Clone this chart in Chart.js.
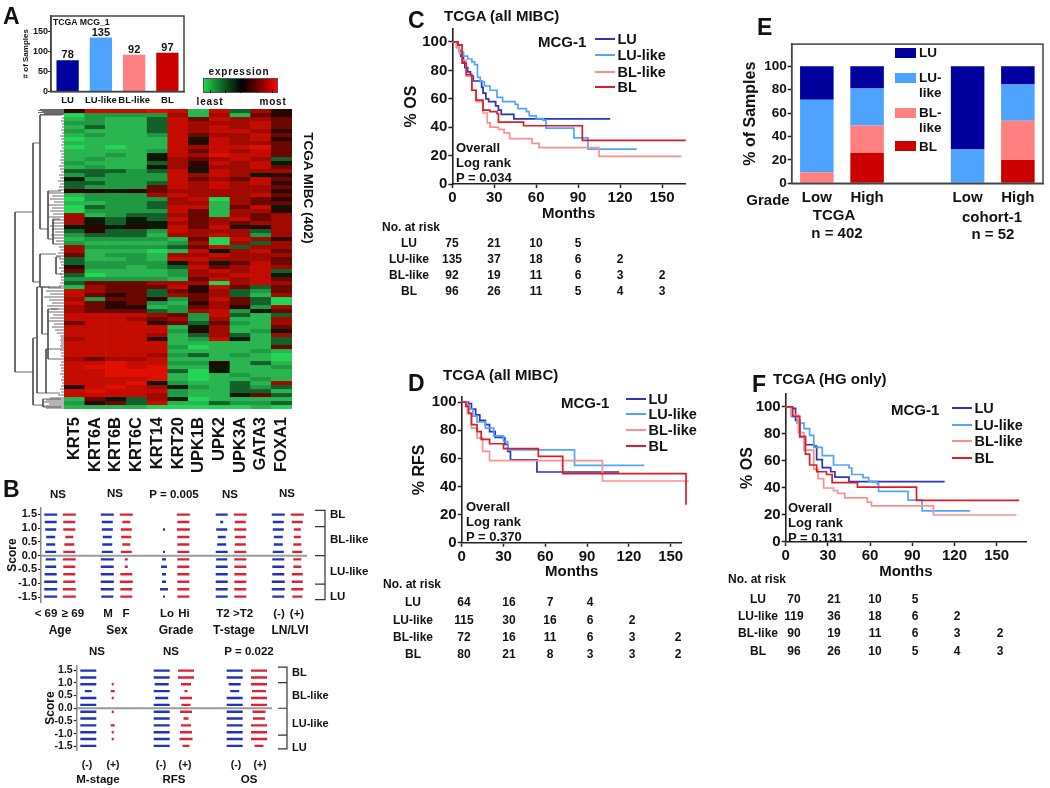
<!DOCTYPE html>
<html>
<head>
<meta charset="utf-8">
<title>MCG-1 subtypes</title>
<script src="https://cdn.jsdelivr.net/npm/chart.js@4"></script>
<style>
  html, body { margin: 0; padding: 0; background: #fff; }
  #page { position: relative; width: 1050px; height: 788px; overflow: hidden; font-family: "Liberation Sans", Arial, sans-serif; font-weight: bold; color: #111; filter: blur(0.4px); }
  #page canvas { position: absolute; }
  .lbl { position: absolute; white-space: nowrap; line-height: 1; }
  .mark { position: absolute; }
</style>
</head>
<body>
<div id="page"></div>
<script>
// colours of the four subtypes
const subtypes = ['LU', 'LU-like', 'BL-like', 'BL'];
const lineColors = ['#2b35b5', '#4da6ff', '#ff9090', '#d81f26'];
const barColors = ['#00009e', '#4da3ff', '#ff8080', '#cc0000'];

// A: sample counts
const sampleCounts = [78, 135, 92, 97];

// A: heatmap, one string per row, one digit per gene (0 = least, 9 = most)
const genes = ['KRT5', 'KRT6A', 'KRT6B', 'KRT6C', 'KRT14', 'KRT20', 'UPK1B', 'UPK2', 'UPK3A', 'GATA3', 'FOXA1'];
const heatColors = ['#24d656', '#2bb551', '#209a42', '#14602a', '#0a1808', '#2c0500', '#6a0800', '#a00a00', '#c40c00', '#e01000'];
const heatRows = [
  '58889818375', '02222717165', '12113868776', '22113877786', '13113878786', '21113878875',
  '12112867786', '01111848785', '11111858776', '01011878896', '11112868786', '11214879886',
  '12114767873', '21113758784', '12114757786', '33323848777', '23222878745', '42222867686',
  '33223878785', '32226878776', '55456777775', '12227877786', '02222780765', '11223771766',
  '03223881684', '02222861775', '71233761767', '74343867867', '74344767677', '45454868557',
  '35332877737', '23331778727', '12222160875', '21111270737', '72222368377', '71110184786',
  '61221778777', '31121887776', '32222474686', '52212386787', '61111278783', '30111277884',
  '22222168786', '36667770787', '17666858636', '87663657326', '86563767317', '72665268630',
  '86562157630', '76551267527', '76663278246', '88887628313', '88876727117', '68885636217',
  '88888147116', '88888257124', '88887137317', '78885128413', '88888111113', '88888201116',
  '88888111121', '88887231210', '76778111110', '88988225131', '89989114112', '88999304111',
  '88999101211', '88889101121', '88894211317', '58987421323', '89888211331', '88887211463',
  '16437401111', '25638113223', '11110000010'
];

// A: dendrogram, links are [height, y1, y2, child height 1, child height 2], leaves are [y, height]
const dendroLinks = [
  [49, 103, 263, 31, 31], [31, 34, 173, 24, 24], [31, 229, 296, 27, 21], [24, 6, 120, 2, 16],
  [16, 82, 130, 3, 11], [11, 110, 135, 4, 6], [24, 145, 178, 8, 14], [27, 178, 284, 22, 18],
  [22, 178, 225, 3, 16], [16, 200, 250, 6, 4], [18, 240, 284, 3, 4], [21, 290, 298, 3, 3], [8, 148, 165, 3, 2]
];
const dendroLeaves = [
  [0.5, 24], [1.5, 26], [2.5, 22], [3.5, 26], [4.5, 20], [5.5, 24], [9, 2], [12, 3], [15, 2], [18, 2], [21, 3], [24, 2],
  [27, 4], [30, 3], [33, 2], [36, 3], [39, 2], [42, 4], [45, 3], [48, 3], [51, 4], [54, 3], [57, 5], [60, 4], [63, 3],
  [66, 5], [69, 4], [72, 6], [75, 4], [78, 5], [81, 6], [84, 15], [87, 12], [90, 14], [93, 10], [96, 16], [99, 12],
  [102, 14], [105, 11], [108, 15], [111, 10], [114, 12], [117, 14], [120, 12], [123, 9], [126, 13], [129, 11],
  [132, 8], [135, 6], [138, 5], [141, 4], [144, 6], [147, 8], [150, 5], [153, 4], [156, 3], [159, 5], [162, 3],
  [165, 4], [168, 3], [171, 3], [174, 4], [177, 5], [179, 16], [182, 18], [185, 14], [188, 20], [191, 15], [194, 12],
  [197, 17], [200, 13], [203, 15], [206, 11], [209, 14], [212, 16], [215, 10], [218, 12], [221, 9], [224, 7],
  [227, 4], [229, 3], [231, 4], [233, 3], [235, 3], [237, 4], [239, 3], [241, 4], [244, 3], [247, 3], [250, 4],
  [253, 3], [256, 4], [259, 3], [262, 3], [265, 4], [268, 2], [271, 3], [274, 2], [277, 3], [280, 4], [283, 3],
  [286, 6], [289, 14], [291, 18], [293, 20], [295, 15], [297, 20], [299, 18]
];

// B: 12 score bins, dash width of each group per bin
const scoreBins = [1.485, 1.215, 0.945, 0.675, 0.405, 0.135, -0.135, -0.405, -0.675, -0.945, -1.215, -1.485];
const ageLow = [13, 12, 11, 9, 9, 11, 10, 11, 12, 13, 13, 13];
const ageHigh = [13, 12, 12, 8, 10, 12, 13, 12, 12, 12, 13, 13];
const sexM = [13, 11, 11, 9, 10, 11, 13, 13, 13, 13, 13, 12];
const sexF = [13, 8, 11, 10, 8, 11, 3, 3, 12, 13, 12, 12];
const gradeLo = [0, 0, 2, 0, 0, 2, 4, 6, 4, 4, 8, 2];
const gradeHi = [13, 12, 13, 12, 12, 12, 12, 12, 12, 12, 12, 12];
const stageT2 = [12, 3, 11, 8, 9, 12, 11, 12, 12, 12, 12, 12];
const stageOver = [13, 11, 12, 11, 11, 12, 12, 12, 12, 12, 12, 12];
const lnNeg = [13, 11, 11, 9, 9, 11, 12, 12, 12, 13, 13, 12];
const lnPos = [13, 11, 7, 7, 8, 10, 8, 8, 11, 11, 12, 10];
const mNeg = [16, 16, 16, 7, 16, 16, 16, 16, 16, 16, 16, 16];
const mPos = [0, 0, 2, 4, 2, 0, 2, 0, 4, 2, 2, 0];
const rfsNeg = [16, 16, 14, 16, 13, 16, 16, 16, 16, 16, 16, 16];
const rfsPos = [16, 16, 10, 3, 12, 9, 12, 5, 10, 12, 13, 7];
const osNeg = [16, 16, 12, 9, 16, 16, 16, 16, 16, 16, 16, 16];
const osPos = [16, 16, 16, 14, 16, 16, 13, 12, 16, 16, 16, 9];

// C: % OS, all MIBC
const cLuMonths = [0, 4, 5, 6, 8, 9, 11, 13, 15, 21, 22, 24, 26, 31, 33, 35, 44, 113];
const cLuOs = [100, 98, 94, 90, 86, 82, 79, 76, 72.5, 68, 64, 60, 58, 55, 52, 49, 45.8, 45.8];
const cLuLikeMonths = [0, 3, 5, 8, 11, 14, 16, 18, 20, 23, 27, 32, 36, 45, 47, 53, 55, 60, 65, 67, 87, 97, 132];
const cLuLikeOs = [100, 96, 93, 90, 88, 86, 84, 75, 72, 69, 66, 61, 58, 56, 53, 51, 48, 46, 45, 39.4, 32.5, 24.5, 24.5];
const cBlLikeMonths = [0, 3, 5, 7, 10, 14, 17, 22, 25, 27, 33, 37, 41, 57, 62, 105, 164];
const cBlLikeOs = [100, 96.5, 92, 87, 76, 66, 58, 50, 43, 40, 38.5, 36, 32, 28.6, 25.6, 19.4, 19.4];
const cBlMonths = [0, 4, 7, 10, 14, 17, 22, 27, 32, 33, 51, 93, 167];
const cBlOs = [100, 98, 85, 77, 66, 59, 52, 51, 49.6, 43.5, 41, 30.7, 30.7];

// D: % RFS, all MIBC
const dLuMonths = [0, 5, 7, 10, 13, 17, 20, 24, 30, 31, 33, 35, 54, 113];
const dLuRfs = [100, 99, 95, 91, 87, 84, 79, 75, 74.5, 70, 65, 59, 50.3, 50.3];
const dLuLikeMonths = [0, 3, 5, 8, 11, 17, 23, 30, 33, 81, 131];
const dLuLikeRfs = [100, 98, 95, 90, 86, 81.5, 76, 72, 66, 55, 55];
const dBlLikeMonths = [0, 4, 7, 11, 15, 20, 101, 163];
const dBlLikeRfs = [100, 92, 81.5, 74.6, 65, 58.4, 43.9, 43.9];
const dBlMonths = [0, 3, 5, 7, 11, 14, 20, 30, 55, 72.5, 161];
const dBlRfs = [100, 97, 92, 84, 79, 73.5, 70.4, 67, 61.4, 49.2, 27];

// F: % OS, HG only
const fLuMonths = [0, 4, 7, 10, 14, 20, 22, 26, 32, 35, 45, 113];
const fLuOs = [100, 99, 90, 78, 72, 71, 61, 55, 52, 48, 44.7, 44.7];
const fLuLikeMonths = [0, 4, 8, 13, 17, 20, 26, 34, 45, 47, 55, 59, 65, 66, 87, 97, 131];
const fLuLikeOs = [100, 93, 88, 84, 79, 70, 64, 57, 54.8, 50, 47.6, 45, 43, 37.5, 31, 23, 23];
const fBlLikeMonths = [0, 4, 9, 13, 20, 23, 27, 34, 37, 42, 58, 61, 105, 164];
const fBlLikeOs = [100, 94, 81, 68, 54, 47, 40, 38, 36, 32.7, 29.6, 26.7, 20, 20];
const fBlMonths = [0, 5, 10, 14, 17, 22, 29, 33, 51, 93, 166];
const fBlOs = [100, 93, 78, 65, 57, 52, 50, 44, 40.6, 30.8, 30.8];

// numbers at risk
const cRisk = [[75, 21, 10, 5], [135, 37, 18, 6, 2], [92, 19, 11, 6, 3, 2], [96, 26, 11, 5, 4, 3]];
const dRisk = [[64, 16, 7, 4], [115, 30, 16, 6, 2], [72, 16, 11, 6, 3, 2], [80, 21, 8, 3, 3, 2]];
const fRisk = [[70, 21, 10, 5], [119, 36, 18, 6, 2], [90, 19, 11, 6, 3, 2], [96, 26, 10, 5, 4, 3]];

// E: % of samples per grade
const gradeLabels = ['Low', 'High', '', 'Low', 'High'];
const gradeLu = [28.5, 19, null, 71, 15.5];
const gradeLuLike = [62, 31.5, null, 29, 31];
const gradeBlLike = [9.5, 23.5, null, 0, 33.5];
const gradeBl = [0, 26, null, 0, 20];

const page = document.getElementById('page');
const FONT = '"Liberation Sans", Arial, sans-serif';
const INK = '#111';
Chart.defaults.font.family = FONT;
Chart.defaults.font.weight = 'bold';
Chart.defaults.color = INK;
Chart.defaults.animation = false;
Chart.defaults.responsive = false;
Chart.defaults.plugins.legend.display = false;
Chart.defaults.plugins.tooltip.enabled = false;

function label(text, x, y, size, align = 'center', extra = {}) {
  const el = document.createElement('div');
  el.className = 'lbl';
  el.textContent = text;
  el.style.left = x + 'px';
  el.style.top = y + 'px';
  el.style.fontSize = size + 'px';
  const shift = align === 'center' ? '-50%' : align === 'right' ? '-100%' : '0';
  el.style.transform = `translate(${shift}, -50%)` + (extra.rotate ? ` rotate(${extra.rotate}deg)` : '');
  if (extra.spacing) el.style.letterSpacing = extra.spacing;
  page.appendChild(el);
  return el;
}

function box(x, y, w, h, css) {
  const el = document.createElement('div');
  el.className = 'mark';
  el.style.cssText = `left:${x}px;top:${y}px;width:${w}px;height:${h}px;${css}`;
  page.appendChild(el);
}

function makeCanvas(x, y, w, h) {
  const c = document.createElement('canvas');
  c.width = w;
  c.height = h;
  c.style.left = x + 'px';
  c.style.top = y + 'px';
  c.style.width = w + 'px';
  c.style.height = h + 'px';
  page.appendChild(c);
  return c.getContext('2d');
}

const framePlugin = {
  id: 'frame',
  afterDraw(chart) {
    const { ctx, chartArea: a } = chart;
    ctx.save();
    ctx.strokeStyle = '#444';
    ctx.lineWidth = 1.5;
    ctx.strokeRect(a.left, a.top, a.right - a.left, a.bottom - a.top);
    ctx.restore();
  }
};

function axisGrid(width = 1.5, length = 4) {
  return { drawOnChartArea: false, tickLength: length, tickWidth: width, tickColor: '#222' };
}

function xy(months, values) {
  return months.map((m, i) => ({ x: m, y: values[i] }));
}

// keep a category axis from shrinking the plot for its outer labels
function fitCategoryAxis(height) {
  return s => {
    s.height = height;
    s.paddingLeft = 0;
    s.paddingRight = 0;
  };
}

// ---------- A: bars
new Chart(makeCanvas(21, 10, 169, 96), {
  type: 'bar',
  data: {
    labels: subtypes,
    datasets: [{ data: sampleCounts, backgroundColor: barColors, barPercentage: 0.67, categoryPercentage: 1 }]
  },
  options: {
    layout: { padding: { top: 6, right: 6 } },
    scales: {
      x: {
        afterFit: fitCategoryAxis(14.5),
        grid: { display: false, drawTicks: false },
        border: { color: '#444', width: 1.5 },
        ticks: { font: { size: 9.5 }, padding: 3, maxRotation: 0, autoSkip: false }
      },
      y: {
        min: 0, max: 188.75,
        afterFit: s => { s.width = 30; },
        grid: axisGrid(1, 3),
        border: { color: '#444', width: 1.5 },
        ticks: { stepSize: 50, includeBounds: false, font: { size: 9 }, padding: 0 },
        title: { display: true, text: '# of Samples', font: { size: 8 }, padding: 0 }
      }
    }
  },
  plugins: [framePlugin, {
    id: 'barValues',
    afterDatasetsDraw(chart) {
      const { ctx } = chart;
      ctx.save();
      ctx.font = `bold 11px ${FONT}`;
      ctx.fillStyle = INK;
      ctx.textAlign = 'center';
      ctx.textBaseline = 'bottom';
      chart.getDatasetMeta(0).data.forEach((bar, i) => ctx.fillText(sampleCounts[i], bar.x, bar.y + 0.5));
      ctx.restore();
    }
  }]
});
label('TCGA MCG_1', 53, 21.5, 8.7);
page.lastChild.style.transform = 'translate(0, -50%)';
label('A', 3, 16, 23, 'left');

// colour key
label('expression', 239, 72, 10, 'center', { spacing: '0.8px' });
box(203, 78, 75, 15, 'background:linear-gradient(90deg,#1fd24c,#0c5a20 28%,#000 52%,#7a0000 76%,#ff0000);border:1px solid #555;box-sizing:border-box;');
[210, 225, 240, 257, 272].forEach(x => box(x, 90, 1, 3, 'background:#111;'));
label('least', 210, 102, 10, 'center', { spacing: '0.8px' });
label('most', 273, 102, 10, 'center', { spacing: '0.8px' });

// ---------- A: heatmap, every row is a stack segment
new Chart(makeCanvas(64, 109, 228, 372), {
  type: 'bar',
  data: {
    labels: genes,
    datasets: heatRows.map(row => ({
      data: genes.map(() => 1),
      backgroundColor: row.split('').map(d => heatColors[+d]),
      borderColor: row.split('').map(d => heatColors[+d]),
      borderWidth: 0.4,
      barPercentage: 1,
      categoryPercentage: 1,
      stack: 'rows'
    }))
  },
  options: {
    scales: {
      x: {
        stacked: true,
        afterFit: fitCategoryAxis(72),
        grid: { display: false, drawTicks: false },
        border: { display: false },
        ticks: { font: { size: 16.5 }, minRotation: 90, maxRotation: 90, autoSkip: false, padding: 8 }
      },
      y: {
        stacked: true, reverse: true, min: 0, max: heatRows.length,
        display: false
      }
    }
  }
});
label('TCGA MIBC (402)', 308, 188, 13.5, 'center', { rotate: 90 });

// ---------- A: dendrogram
const dendroPoints = [];
dendroLinks.forEach(([h, y1, y2, c1, c2]) => {
  dendroPoints.push({ x: c1, y: y1 }, { x: h, y: y1 }, { x: h, y: y2 }, { x: c2, y: y2 }, { x: null, y: null });
});
dendroLeaves.forEach(([y, h]) => {
  dendroPoints.push({ x: 0, y }, { x: h, y }, { x: null, y: null });
});
new Chart(makeCanvas(10, 109, 54, 300), {
  type: 'scatter',
  data: { datasets: [{ data: dendroPoints, showLine: true, borderColor: '#444', borderWidth: 0.8, pointRadius: 0 }] },
  options: {
    scales: {
      x: { display: false, reverse: true, min: 0, max: 54 },
      y: { display: false, reverse: true, min: 0, max: 300 }
    }
  }
});

// ---------- B: dash panels
function dashes(widths, center) {
  const pts = [];
  widths.forEach((w, i) => {
    if (w > 0) pts.push({ x: center - w / 2, y: scoreBins[i] }, { x: center + w / 2, y: scoreBins[i] }, { x: null, y: null });
  });
  return pts;
}

function scorePanel(cfg) {
  const line = (data, color, width) => ({ data, showLine: true, borderColor: color, borderWidth: width, pointRadius: 0 });
  const datasets = cfg.groups.map(([w, c, color]) => line(dashes(w, c), color, 2.4));
  datasets.push(line(cfg.zero, '#9a9a9a', 2));
  datasets.push(line(cfg.bracket, '#333', 1.2));
  new Chart(makeCanvas(cfg.left, cfg.top, cfg.width, cfg.height), {
    type: 'scatter',
    data: { datasets },
    options: {
      layout: { padding: { top: 3, bottom: 3 } },
      scales: {
        x: { display: false, min: cfg.xMin, max: cfg.left + cfg.width },
        y: {
          min: cfg.yMin, max: cfg.yMax,
          afterFit: s => { s.width = cfg.xMin - cfg.left; },
          grid: axisGrid(1.2, 3),
          border: { color: '#888', width: 1.5 },
          ticks: { stepSize: 0.5, includeBounds: false, autoSkip: false, font: { size: cfg.tickSize }, padding: 1, callback: v => v.toFixed(1) },
          title: { display: true, text: 'Score', font: { size: 12 }, padding: 0 }
        }
      }
    }
  });
}

const BLUE = '#2233bb';
const RED = '#dd2233';
scorePanel({
  left: 5, top: 500, width: 335, height: 110, xMin: 41, yMin: -1.693, yMax: 1.739, tickSize: 11,
  groups: [
    [ageLow, 50.7, BLUE], [ageHigh, 69.3, RED], [sexM, 107.3, BLUE], [sexF, 126.3, RED], [gradeLo, 164, BLUE], [gradeHi, 183.3, RED],
    [stageT2, 221.7, BLUE], [stageOver, 240.3, RED], [lnNeg, 278.3, BLUE], [lnPos, 297.3, RED]
  ],
  zero: [{ x: 41, y: 0 }, { x: 307, y: 0 }],
  bracket: [
    { x: 315, y: 1.64 }, { x: 325, y: 1.64 }, { x: 325, y: -1.594 }, { x: 315, y: -1.594 }, { x: null, y: null },
    { x: 315, y: 1.05 }, { x: 325, y: 1.05 }, { x: null, y: null },
    { x: 315, y: 0 }, { x: 325, y: 0 }, { x: null, y: null },
    { x: 315, y: -1.034 }, { x: 325, y: -1.034 }
  ]
});
scorePanel({
  left: 43, top: 658, width: 260, height: 100, xMin: 76.7, yMin: -1.674, yMax: 1.695, tickSize: 10.5,
  groups: [
    [mNeg, 88.3, BLUE], [mPos, 112.7, RED], [rfsNeg, 161.7, BLUE], [rfsPos, 186, RED], [osNeg, 234.7, BLUE], [osPos, 259, RED]
  ],
  zero: [{ x: 76.7, y: 0 }, { x: 272, y: 0 }],
  bracket: [
    { x: 278, y: 1.62 }, { x: 287, y: 1.62 }, { x: 287, y: -1.6 }, { x: 278, y: -1.6 }, { x: null, y: null },
    { x: 278, y: 1.01 }, { x: 287, y: 1.01 }, { x: null, y: null },
    { x: 278, y: 0 }, { x: 287, y: 0 }, { x: null, y: null },
    { x: 278, y: -1.06 }, { x: 287, y: -1.06 }
  ]
});
label('B', 3, 489, 23, 'left');
[['NS', 58, 495], ['NS', 115, 494], ['P = 0.005', 174, 495], ['NS', 230, 495], ['NS', 287, 494],
 ['NS', 97, 652], ['NS', 171, 652], ['P = 0.022', 249, 652]].forEach(([t, x, y]) => label(t, x, y, 11.5));
[['< 69', 46], ['\u2265 69', 73], ['M', 108], ['F', 126], ['Lo', 167], ['Hi', 184], ['T2', 223], ['>T2', 243], ['(-)', 279], ['(+)', 297]]
  .forEach(([t, x]) => label(t, x, 614, 11.5));
[['Age', 60], ['Sex', 117], ['Grade', 176], ['T-stage', 234], ['LN/LVI', 290]].forEach(([t, x]) => label(t, x, 630, 12));
[['BL', 515], ['BL-like', 540], ['LU-like', 572], ['LU', 597]].forEach(([t, y]) => label(t, 330, y, 11.5, 'left'));
[['BL', 672], ['BL-like', 695], ['LU-like', 723], ['LU', 747]].forEach(([t, y]) => label(t, 292, y, 11, 'left'));
[['(-)', 87], ['(+)', 113], ['(-)', 161], ['(+)', 185], ['(-)', 236], ['(+)', 260]].forEach(([t, x]) => label(t, x, 764, 10.5));
[['M-stage', 98], ['RFS', 174], ['OS', 249]].forEach(([t, x]) => label(t, x, 780, 11.5));

// ---------- C, D, F: survival curves
function kmPanel(cfg) {
  const pxPerMonth = (cfg.x150 - cfg.x0) / 150;
  const pxPerPct = (cfg.y0 - cfg.y100) / 100;
  const left = Math.round(cfg.titleX - 9.6);
  const top = Math.round(cfg.yTop - 6);
  const bottom = cfg.y0 + 38.4;
  const right = Math.round(cfg.xEnd + cfg.padRight);
  new Chart(makeCanvas(left, top, right - left, Math.ceil(bottom - top)), {
    type: 'scatter',
    data: {
      datasets: cfg.curves.map(([m, v], i) => ({
        data: xy(m, v),
        showLine: true,
        stepped: 'before',
        clip: false,
        borderColor: lineColors[i],
        borderWidth: 1.7,
        pointRadius: 0,
        order: cfg.curves.length - i
      }))
    },
    options: {
      layout: { padding: { top: cfg.yTop - top, right: right - cfg.xEnd, bottom: Math.ceil(bottom - top) - (bottom - top) } },
      scales: {
        x: {
          min: 0, max: (cfg.xEnd - cfg.x0) / pxPerMonth,
          afterFit: s => { s.height = 38.4; },
          grid: axisGrid(),
          border: { color: '#222', width: 1.6 },
          ticks: { stepSize: 30, includeBounds: false, font: { size: 15 }, padding: 1, maxRotation: 0 },
          title: { display: true, text: 'Months', font: { size: 15 }, padding: 0 }
        },
        y: {
          min: 0, max: (cfg.y0 - cfg.yTop) / pxPerPct,
          afterFit: s => { s.width = cfg.x0 - left; },
          grid: axisGrid(),
          border: { color: '#222', width: 1.6 },
          ticks: { stepSize: 20, includeBounds: false, font: { size: 15 }, padding: 1 },
          title: { display: true, text: cfg.yTitle, font: { size: 16 }, padding: 0 }
        }
      }
    }
  });
  label(cfg.title, cfg.titleLeft, cfg.titleY, 15, 'left');
  label('MCG-1', cfg.mcgX, cfg.mcgY, 15, 'left');
  subtypes.forEach((name, i) => {
    const y = cfg.legendYs[i];
    box(cfg.legendX, y - 1, 20, 2, `background:${lineColors[i]};`);
    label(name, cfg.legendX + 22.5, y, 14.5, 'left');
  });
  ['Overall', 'Log rank', cfg.p].forEach((t, i) => label(t, cfg.noteX, cfg.noteY + i * 15, 13, 'left'));
  label('No. at risk', cfg.riskX, cfg.riskY, 12, 'left');
  cfg.risk.forEach((row, r) => {
    label(subtypes[r], cfg.riskName, cfg.riskRows[r], 12);
    row.forEach((n, c) => label(String(n), cfg.riskCols[c], cfg.riskRows[r], 12));
  });
}

kmPanel({
  x0: 452.3, x150: 662, y100: 38.3, y0: 184, yTop: 25, xEnd: 685, padRight: 8, titleX: 412,
  yTitle: '% OS', title: 'TCGA (all MIBC)', titleLeft: 444, titleY: 15,
  mcgX: 538, mcgY: 41, legendX: 595, legendYs: [39, 55, 72, 87],
  noteX: 456, noteY: 147, p: 'P = 0.034',
  riskX: 382, riskY: 227, riskName: 409, riskRows: [243, 259, 275, 291], riskCols: [452, 494, 536, 578, 620, 662],
  risk: cRisk,
  curves: [[cLuMonths, cLuOs], [cLuLikeMonths, cLuLikeOs], [cBlLikeMonths, cBlLikeOs], [cBlMonths, cBlOs]]
});
kmPanel({
  x0: 461.7, x150: 670.7, y100: 398.3, y0: 542.7, yTop: 393, xEnd: 681.7, padRight: 12, titleX: 420,
  yTitle: '% RFS', title: 'TCGA (all MIBC)', titleLeft: 443, titleY: 374,
  mcgX: 561, mcgY: 402, legendX: 626, legendYs: [399, 414, 430, 446],
  noteX: 466, noteY: 506, p: 'P = 0.370',
  riskX: 383, riskY: 584, riskName: 413, riskRows: [602, 620, 637, 654], riskCols: [464, 509, 550, 590, 632, 678],
  risk: dRisk,
  curves: [[dLuMonths, dLuRfs], [dLuLikeMonths, dLuLikeRfs], [dBlLikeMonths, dBlLikeRfs], [dBlMonths, dBlRfs]]
});
kmPanel({
  x0: 785.7, x150: 996.7, y100: 403.3, y0: 542, yTop: 390, xEnd: 1026, padRight: 8, titleX: 748,
  yTitle: '% OS', title: 'TCGA (HG only)', titleLeft: 773, titleY: 378,
  mcgX: 891, mcgY: 409, legendX: 952, legendYs: [408, 425, 441, 458],
  noteX: 788, noteY: 507, p: 'P = 0.131',
  riskX: 728, riskY: 579, riskName: 758, riskRows: [599, 616, 633, 651], riskCols: [794, 834, 875, 915, 957, 1000],
  risk: fRisk,
  curves: [[fLuMonths, fLuOs], [fLuLikeMonths, fLuLikeOs], [fBlLikeMonths, fBlLikeOs], [fBlMonths, fBlOs]]
});
label('C', 408, 20, 23, 'left');
label('D', 408, 383, 23, 'left');
label('F', 752, 384, 23, 'left');

// ---------- E: stacked bars
new Chart(makeCanvas(741, 35, 307, 172), {
  type: 'bar',
  data: {
    labels: gradeLabels,
    datasets: [
      { label: 'BL', data: gradeBl, backgroundColor: barColors[3] },
      { label: 'BL-like', data: gradeBlLike, backgroundColor: barColors[2] },
      { label: 'LU-like', data: gradeLuLike, backgroundColor: barColors[1] },
      { label: 'LU', data: gradeLu, backgroundColor: barColors[0] }
    ].map(d => ({ ...d, barPercentage: 0.667, categoryPercentage: 1 }))
  },
  options: {
    layout: { padding: { top: 6, right: 5 } },
    scales: {
      x: {
        stacked: true,
        afterFit: fitCategoryAxis(23.7),
        grid: { display: false, drawTicks: false },
        border: { color: '#444', width: 1.5 },
        ticks: { font: { size: 15 }, padding: 6, maxRotation: 0, autoSkip: false }
      },
      y: {
        stacked: true, min: 0, max: 119,
        afterFit: s => { s.width = 50.7; },
        grid: axisGrid(),
        border: { color: '#444', width: 1.5 },
        ticks: { stepSize: 20, includeBounds: false, font: { size: 13.5 }, padding: 1 },
        title: { display: true, text: '% of Samples', font: { size: 16 }, padding: 0 }
      }
    }
  },
  plugins: [framePlugin]
});
label('E', 757, 27, 23, 'left');
[[48, barColors[0]], [72.5, barColors[1]], [107.5, barColors[2]], [141, barColors[3]]].forEach(([y, c]) => box(894.5, y, 21, 10, `background:${c};`));
[['LU', 53], ['LU-', 78], ['like', 93], ['BL-', 113], ['like', 128], ['BL', 147]].forEach(([t, y]) => label(t, 919, y, 13.5, 'left'));
label('Grade', 768, 199, 15);
label('TCGA', 834, 214, 15);
label('n = 402', 837, 232, 15);
label('cohort-1', 992, 216, 15);
label('n = 52', 993, 233, 15);
</script>
</body>
</html>
